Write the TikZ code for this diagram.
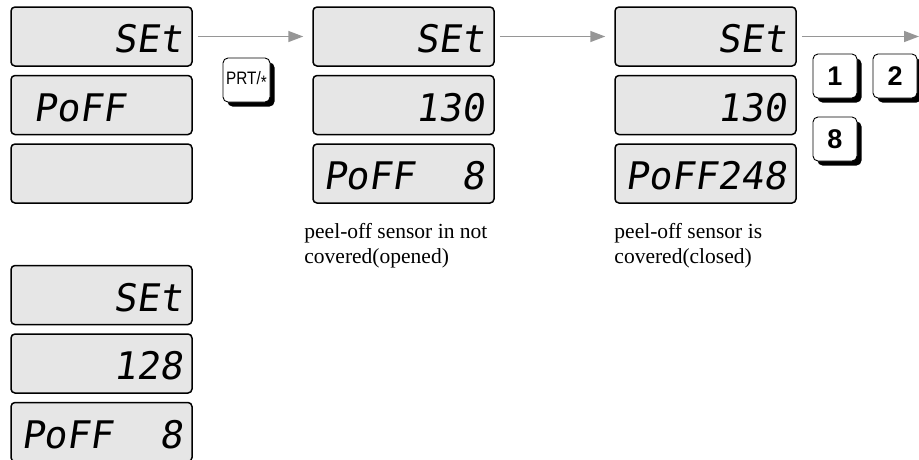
\documentclass[tikz,border=0pt]{standalone}
\usepackage{fontspec}
\setmainfont{Liberation Serif}
\setsansfont{Liberation Sans}
\newfontfamily\lcdfont{DejaVu Sans Mono}[FakeSlant=0.15]
\usepackage{tikz}
\usetikzlibrary{arrows.meta, positioning, shadows}
\definecolor{lcdgray}{RGB}{230,230,230}
\definecolor{flowgray}{RGB}{150,150,150}
\tikzset{
  lcd/.style={
    rectangle, rounded corners=4pt, minimum width=181pt, minimum height=59pt,
    draw=black, line width=1.5pt, fill=lcdgray, inner xsep=10pt,
    text width=161pt, align=right, text height=32pt, text depth=0pt,
    font=\lcdfont\fontsize{38}{38}\selectfont
  },
  lcdleft/.style={lcd, align=left},
  key/.style={
    rectangle, rounded corners=5pt, minimum width=44pt, minimum height=44pt,
    draw=black, line width=0.9pt, fill=white, inner sep=0pt,
    drop shadow={shadow xshift=4.5pt, shadow yshift=-4.5pt, fill=black, opacity=1},
    font=\sffamily\bfseries\fontsize{27}{27}\selectfont
  },
  flow/.style={-{Triangle[length=15pt,width=11pt]}, line width=1.5pt,
    draw=flowgray, shorten <=5pt, shorten >=9pt},
  note/.style={align=left, inner sep=0pt, font=\fontsize{21.5}{25}\selectfont}
}
\begin{document}
\begin{tikzpicture}[x=1pt, y=-1pt, node distance=8pt and 119.5pt]
  \useasboundingbox (0,0) rectangle (919,459);

  \node[lcd] (set1) at (101.5,36.5) {SEt};
  \node[lcdleft, below=of set1] (poff1) {~PoFF};
  \node[lcd, below=of poff1] (blank1) {};

  \node[lcd, right=of set1] (set2) {SEt};
  \node[lcd, below=of set2] (val2) {130};
  \node[lcdleft, below=of val2] (poff2) {PoFF\hfill 8};

  \node[lcd, right=of set2] (set3) {SEt};
  \node[lcd, below=of set3] (val3) {130};
  \node[lcd, below=of val3] (poff3) {PoFF248};

  \node[lcd, below=61pt of blank1] (set4) {SEt};
  \node[lcd, below=of set4] (val4) {128};
  \node[lcdleft, below=of val4] (poff4) {PoFF\hfill 8};

  \node[note, below right=19pt and -8pt of poff2.south west] (open)
    {peel-off sensor in not\\covered(opened)};
  \node[note, below right=19pt and 0pt of poff3.south west] (closed)
    {peel-off sensor is\\covered(closed)};

  \node[key, minimum width=47pt, font=\sffamily\fontsize{18}{18}\selectfont]
    (prt) at (246.5,80) {\scalebox{0.85}[1]{PRT/\raisebox{-0.22em}{*}}};
  \node[key] (one) at (835,76) {1};
  \node[key] (two) at (895,76) {2};
  \node[key] (eight) at (835,139) {8};

  \coordinate (out) at (919,36.5);
  \draw[flow] (set1) -- (set2);
  \draw[flow] (set2) -- (set3);
  \draw[flow, shorten >=0pt] (set3) -- (out);
\end{tikzpicture}
\end{document}
